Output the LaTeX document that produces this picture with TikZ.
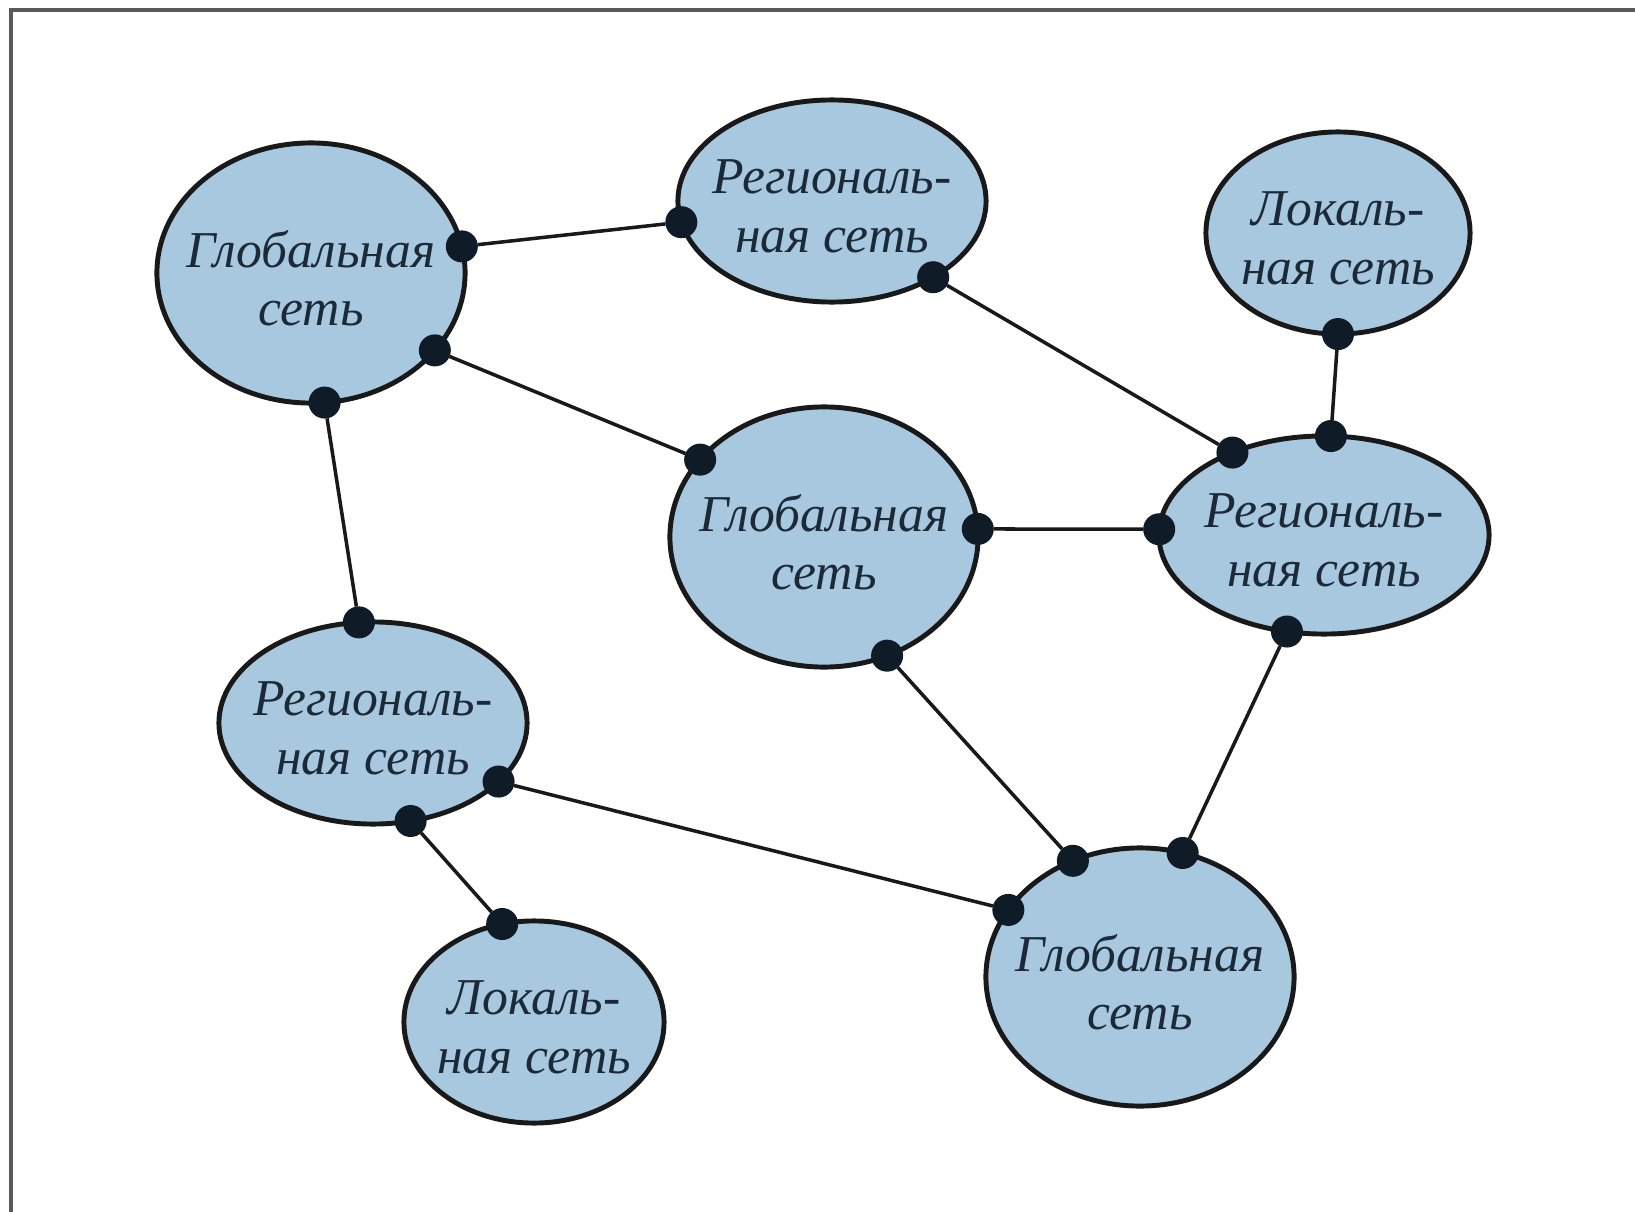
\documentclass[tikz,border=0pt]{standalone}
\usepackage{fontspec}
\setmainfont{Liberation Serif}
\usetikzlibrary{shapes.geometric}
\definecolor{netfill}{HTML}{A8C8E0}
\definecolor{netink}{HTML}{1C2A38}
\definecolor{jointink}{HTML}{0F1B26}

\begin{document}
\begin{tikzpicture}[
x=0.01cm, y=-0.01cm,
font=\itshape\fontsize{14.7}{16.6}\selectfont,
net/.style={ellipse, draw=black!90, line width=1.4pt, fill=netfill, inner sep=0pt, outer sep=0pt},
netname/.style={align=center, text=netink, inner sep=0pt, yshift=-1.5pt},
joint/.style={circle, fill=jointink, minimum size=0.32cm, inner sep=0pt, outer sep=0pt},
link/.style={line width=1pt, black!90}
]
    \useasboundingbox (0,0) rectangle (1635,1212);

    % Draw frame
    \draw[line width=1pt, black!65] (11,1212) -- (11,10) -- (1635,10);

    % Networks
    \node[net, minimum width=3.08cm, minimum height=2.60cm, label={[netname]center:Глобальная\\сеть}] (glob1) at (311,273) {};
    \node[net, minimum width=3.08cm, minimum height=2.02cm, label={[netname]center:Региональ-\\ная сеть}] (reg1) at (832,201) {};
    \node[net, minimum width=2.64cm, minimum height=2.02cm, label={[netname]center:Локаль-\\ная сеть}] (loc1) at (1338,233) {};
    \node[net, minimum width=3.08cm, minimum height=2.60cm, label={[netname]center:Глобальная\\сеть}] (glob2) at (824,537) {};
    \node[net, minimum width=3.30cm, minimum height=1.98cm, label={[netname]center:Региональ-\\ная сеть}] (reg2) at (1324,535) {};
    \node[net, minimum width=3.08cm, minimum height=2.02cm, label={[netname]center:Региональ-\\ная сеть}] (reg3) at (373,723) {};
    \node[net, minimum width=2.60cm, minimum height=2.02cm, label={[netname]center:Локаль-\\ная сеть}] (loc2) at (534,1022) {};
    \node[net, minimum width=3.08cm, minimum height=2.58cm, label={[netname]center:Глобальная\\сеть}] (glob3) at (1140,977) {};

    % Joints on the borders
    \node[joint] (g1a) at (glob1.10) {};
    \node[joint] (g1b) at (glob1.-32) {};
    \node[joint] (g1c) at (glob1.-84) {};
    \node[joint] (r1a) at (reg1.188) {};
    \node[joint] (r1b) at (reg1.-37) {};
    \node[joint] (l1a) at (loc1.-90) {};
    \node[joint] (g2a) at (glob2.148) {};
    \node[joint] (g2b) at (glob2.3) {};
    \node[joint] (g2c) at (glob2.-62) {};
    \node[joint] (r2a) at (reg2.138) {};
    \node[joint] (r2b) at (reg2.86) {};
    \node[joint] (r2c) at (reg2.178) {};
    \node[joint] (r2d) at (reg2.-111) {};
    \node[joint] (r3a) at (reg3.98) {};
    \node[joint] (r3b) at (reg3.-25) {};
    \node[joint] (r3c) at (reg3.-69) {};
    \node[joint] (l2a) at (loc2.108) {};
    \node[joint] (g3a) at (glob3.120) {};
    \node[joint] (g3b) at (glob3.71) {};
    \node[joint] (g3c) at (glob3.153) {};

    % Links
    \draw[link] (g1a) -- (r1a);
    \draw[link] (g1b) -- (g2a);
    \draw[link] (g1c) -- (r3a);
    \draw[link] (r1b) -- (r2a);
    \draw[link] (l1a) -- (r2b);
    \draw[link] (g2b) -- (r2c);
    \draw[link] (g2c) -- (g3a);
    \draw[link] (r2d) -- (g3b);
    \draw[link] (r3b) -- (g3c);
    \draw[link] (r3c) -- (l2a);

\end{tikzpicture}
\end{document}
